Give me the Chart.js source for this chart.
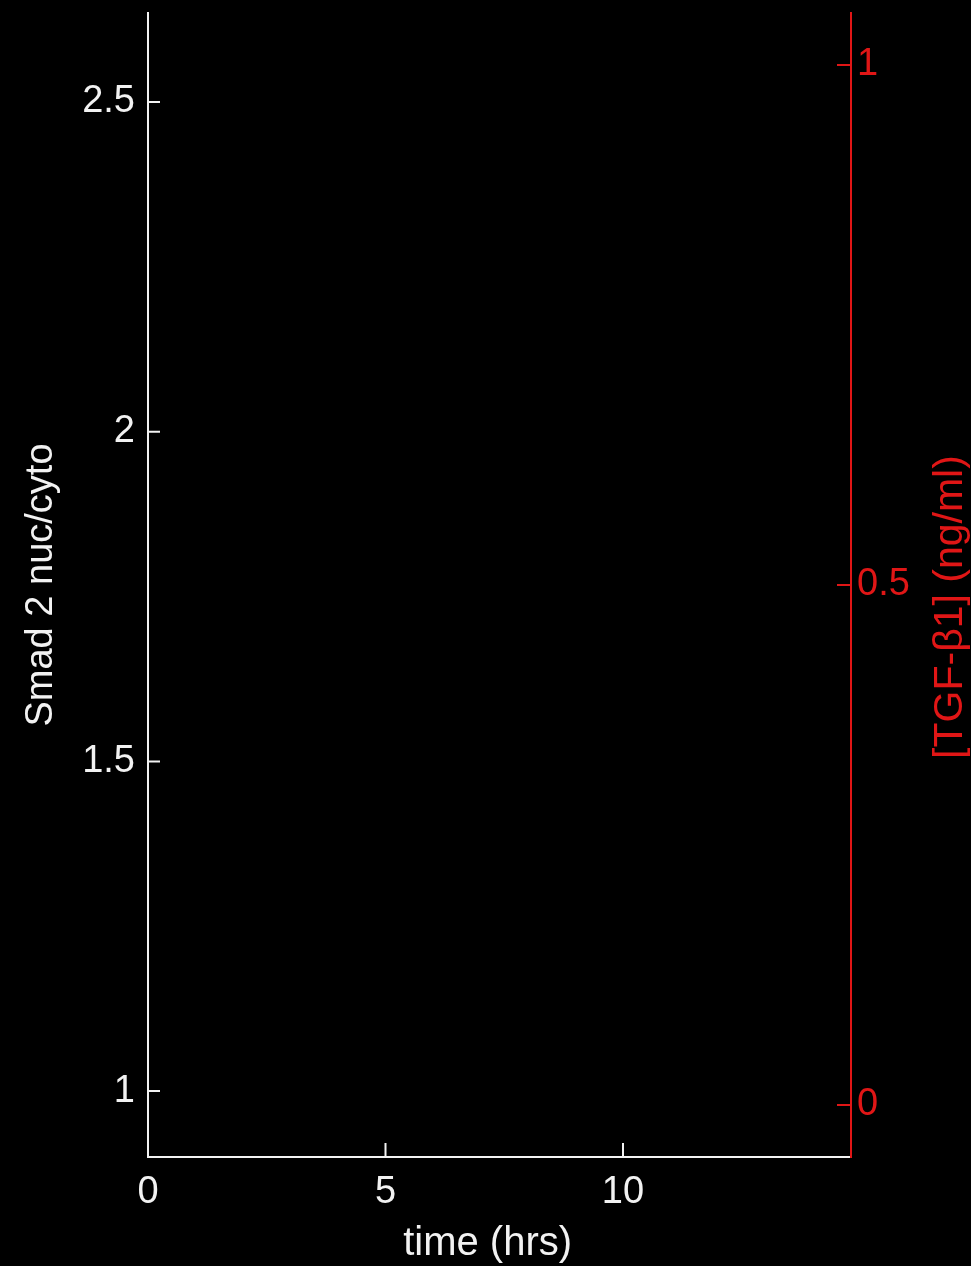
<!DOCTYPE html>
<html>
<head>
<meta charset="utf-8">
<script src="https://cdn.jsdelivr.net/npm/chart.js@4/dist/chart.umd.min.js"></script>
<style>
  html, body { margin: 0; padding: 0; background: #000; }
  #wrap { width: 971px; height: 1266px; }
</style>
</head>
<body>
<div id="wrap"><canvas id="c" width="971" height="1266"></canvas></div>
<script>
// Time course of Smad2 nuclear/cytoplasmic ratio and TGF-β1 dose (axes only, no samples yet)
const timeHrs = [];
const smadNucCyto = [];
const tgfDose = [];

const timeTicks = [0, 5, 10];
const smadTicks = [1, 1.5, 2, 2.5];
const tgfTicks = [0, 0.5, 1];

const WHITE = '#f2f2f2';
const RED = '#e01616';
const FONT = 'Liberation Sans, Arial, sans-serif';
const TGF_TITLE = '[TGF-β1] (ng/ml)';
const TIME_TITLE = 'time (hrs)';

const inwardTicks = {
  id: 'inwardTicks',
  afterDraw(chart) {
    const { ctx, chartArea, scales } = chart;
    ctx.save();
    ctx.lineWidth = 2;
    ctx.strokeStyle = WHITE;
    ctx.beginPath();
    timeTicks.forEach(v => {
      const x = scales.x.getPixelForValue(v);
      ctx.moveTo(x, chartArea.bottom);
      ctx.lineTo(x, chartArea.bottom - 14);
    });
    smadTicks.forEach(v => {
      const y = scales.y.getPixelForValue(v);
      ctx.moveTo(chartArea.left, y);
      ctx.lineTo(chartArea.left + 12, y);
    });
    ctx.stroke();
    ctx.strokeStyle = RED;
    ctx.beginPath();
    tgfTicks.forEach(v => {
      const y = scales.y2.getPixelForValue(v);
      ctx.moveTo(chartArea.right, y);
      ctx.lineTo(chartArea.right - 14, y);
    });
    ctx.stroke();
    ctx.restore();

    // axis titles drawn by hand: x title sits a little left of centre,
    // right title reads bottom-to-top like the left one
    ctx.save();
    ctx.textAlign = 'center';
    ctx.textBaseline = 'middle';
    ctx.fillStyle = WHITE;
    ctx.font = '40px ' + FONT;
    ctx.fillText(TIME_TITLE, scales.x.getPixelForValue(7.15), scales.x.bottom - 22);
    ctx.restore();

    ctx.save();
    const s = scales.y2;
    ctx.fillStyle = RED;
    ctx.font = '41px ' + FONT;
    ctx.textAlign = 'center';
    ctx.textBaseline = 'middle';
    ctx.translate(s.right - 20, (s.top + s.bottom) / 2 + 22);
    ctx.rotate(-Math.PI / 2);
    ctx.fillText(TGF_TITLE, 0, 0);
    ctx.restore();
  }
};

const blackBg = {
  id: 'blackBg',
  beforeDraw(chart) {
    const { ctx } = chart;
    ctx.save();
    ctx.fillStyle = '#000';
    ctx.fillRect(0, 0, chart.width, chart.height);
    ctx.restore();
  }
};

function fixedTicks(list) {
  return scale => { scale.ticks = list.map(v => ({ value: v })); };
}
const plain = v => String(v);

new Chart(document.getElementById('c'), {
  type: 'scatter',
  data: {
    datasets: [
      { label: 'Smad 2 nuc/cyto', data: timeHrs.map((t, i) => ({ x: t, y: smadNucCyto[i] })), yAxisID: 'y', borderColor: WHITE, backgroundColor: WHITE },
      { label: TGF_TITLE, data: timeHrs.map((t, i) => ({ x: t, y: tgfDose[i] })), yAxisID: 'y2', borderColor: RED, backgroundColor: RED }
    ]
  },
  options: {
    responsive: false,
    animation: false,
    layout: { padding: { top: 13, left: 0, right: 0, bottom: 0 } },
    plugins: { legend: { display: false }, tooltip: { enabled: false } },
    scales: {
      x: {
        type: 'linear', position: 'bottom', min: 0, max: 14.8,
        afterBuildTicks: fixedTicks(timeTicks),
        afterFit: s => { s.height = 109; s.paddingLeft = 0; s.paddingRight = 0; },
        grid: { display: false },
        border: { display: true, color: WHITE, width: 2 },
        ticks: { color: WHITE, padding: 5, maxRotation: 0, callback: plain, font: { family: FONT, size: 38 } },
        title: { display: false }
      },
      y: {
        type: 'linear', position: 'left', min: 0.9, max: 2.635,
        afterBuildTicks: fixedTicks(smadTicks),
        afterFit: s => { s.width = 148; s.paddingTop = 0; s.paddingBottom = 0; },
        grid: { display: false },
        border: { display: true, color: WHITE, width: 2 },
        ticks: { color: WHITE, padding: 5, callback: plain, font: { family: FONT, size: 38 } },
        title: { display: true, text: 'Smad 2 nuc/cyto', color: WHITE, font: { family: FONT, size: 38, lineHeight: 1 }, padding: { top: 23, bottom: 0 } }
      },
      y2: {
        type: 'linear', position: 'right', min: -0.05, max: 1.05,
        afterBuildTicks: fixedTicks(tgfTicks),
        afterFit: s => { s.width = 120; s.paddingTop = 0; s.paddingBottom = 0; },
        grid: { display: false },
        border: { display: true, color: RED, width: 2 },
        ticks: { color: RED, padding: -2, callback: plain, font: { family: FONT, size: 38 } },
        title: { display: false }
      }
    }
  },
  plugins: [blackBg, inwardTicks]
});
</script>
</body>
</html>
